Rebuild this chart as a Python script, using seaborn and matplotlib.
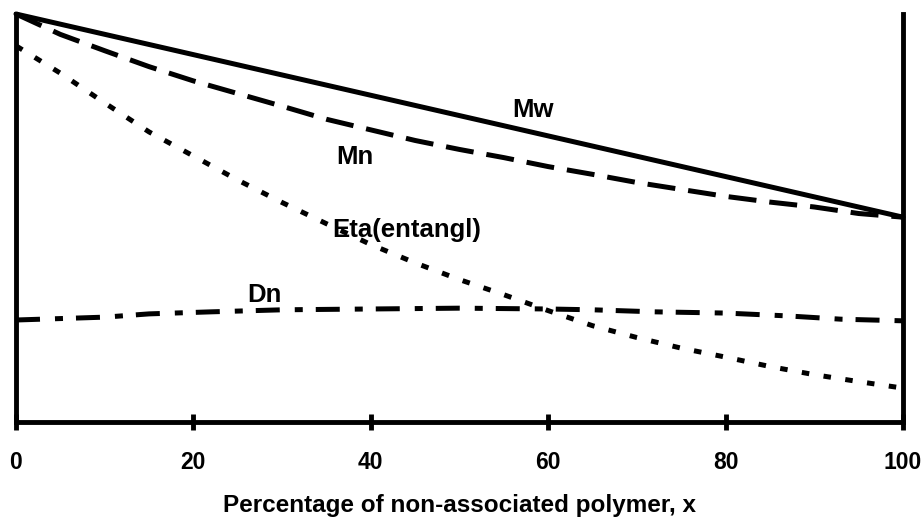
import matplotlib
matplotlib.use("Agg")
import matplotlib.pyplot as plt
import numpy as np
import pandas as pd
import seaborn as sns

# x grid (percentage of non-associated polymer)
x_grid = [0, 5, 10, 15, 20, 25, 30, 35, 40, 45, 50,
          55, 60, 65, 70, 75, 80, 85, 90, 95, 100]

mw_x = [0, 100]
mw_y = [100.0, 50.2]

mn_x = [0, 2.5, 5, 10, 15, 20, 25, 30, 35, 40, 45, 50,
        55, 60, 65, 70, 75, 80, 85, 90, 95, 100]
mn_y = [100.0, 97.5, 95.0, 91.0, 87.1, 83.6, 80.5, 77.4, 74.2, 71.6, 69.0, 66.8,
        64.8, 62.6, 60.7, 58.7, 57.0, 55.3, 53.9, 52.7, 51.1, 50.2]

eta_y = [92.2, 85.5, 78.2, 71.1, 65.2, 59.3, 53.8, 48.6, 43.5, 39.0, 34.9,
         31.2, 27.3, 23.6, 20.7, 18.1, 15.9, 13.6, 11.6, 9.9, 8.3]

dn_x = [0, 10, 15, 22, 30, 40, 50, 60, 65, 72, 80, 87, 93, 100]
dn_y = [25.0, 25.7, 26.5, 27.0, 27.5, 27.7, 27.9, 27.7, 27.5, 27.0, 26.7, 26.0, 25.2, 24.8]

labels = {"Mw": (58.3, 76.5), "Mn": (38.2, 65.0),
          "Eta(entangl)": (44.1, 47.1), "Dn": (28.0, 31.1)}

sns.set_style("ticks")
plt.rcParams.update({
    "font.family": ["Liberation Sans", "DejaVu Sans"],
    "font.weight": "bold",
    "text.color": "black",
    "axes.labelcolor": "black",
    "axes.edgecolor": "black",
    "xtick.color": "black",
})

fig = plt.figure(figsize=(9.24, 5.18), dpi=100)
ax = fig.add_axes([16 / 924, 96 / 518, 887 / 924, 408 / 518])

lw = 3.6
sns.lineplot(x=mw_x, y=mw_y, ax=ax, color="black", linewidth=lw,
             linestyle="-", clip_on=False)
sns.lineplot(x=mn_x, y=mn_y, ax=ax, color="black", linewidth=lw,
             linestyle=(0, (5.6, 2.6)), clip_on=False)
sns.lineplot(x=x_grid, y=eta_y, ax=ax, color="black", linewidth=lw,
             linestyle=(0, (1.5, 2.9)), clip_on=False)
sns.lineplot(x=dn_x, y=dn_y, ax=ax, color="black", linewidth=lw,
             linestyle=(0, (4.8, 3.0, 1.6, 2.6)), clip_on=False)

for txt, (tx, ty) in labels.items():
    ax.text(tx, ty, txt, ha="center", va="center", fontsize=18.5,
            fontweight="bold")

ax.set_xlim(0, 100)
ax.set_ylim(0, 100)
ax.set_xticks([0, 20, 40, 60, 80, 100])
ax.set_yticks([])
ax.tick_params(axis="x", direction="inout", length=12, width=3.5,
               pad=15, labelsize=16.5)
for lab in ax.get_xticklabels():
    lab.set_fontweight("bold")
ax.set_xlabel("Percentage of non-associated polymer, x", fontsize=17.5,
              fontweight="bold", labelpad=14)

ax.spines["top"].set_visible(False)
for s in ["left", "right", "bottom"]:
    ax.spines[s].set_linewidth(3.5)
    ax.spines[s].set_visible(True)

fig.savefig("out.png", dpi=100)
